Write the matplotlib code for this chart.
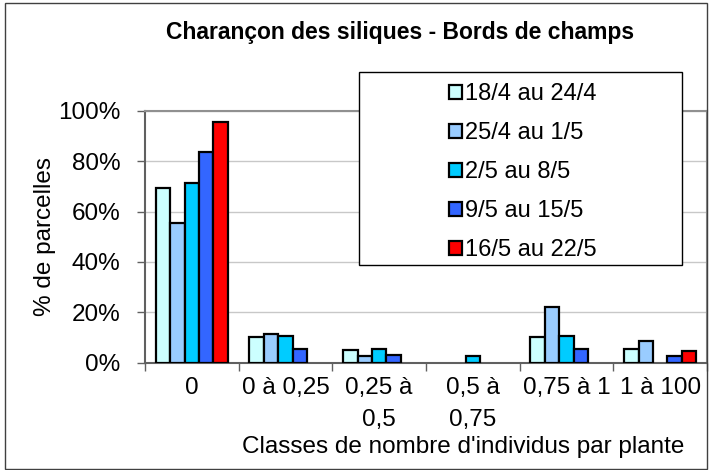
import matplotlib.pyplot as plt
from matplotlib.patches import Rectangle
from matplotlib.ticker import PercentFormatter

plt.rcParams['font.family'] = ['Liberation Sans', 'DejaVu Sans']

classes = ["0", "0 à 0,25", "0,25 à\n0,5", "0,5 à\n0,75", "0,75 à 1", "1 à 100"]
periodes = ["18/4 au 24/4", "25/4 au 1/5", "2/5 au 8/5", "9/5 au 15/5", "16/5 au 22/5"]
p1 = [69.2, 10.1, 5.0, 0.0, 10.3, 5.3]
p2 = [55.6, 11.4, 2.8, 0.0, 22.2, 8.6]
p3 = [71.2, 10.6, 5.3, 2.6, 10.6, 0.0]
p4 = [83.7, 5.4, 2.9, 0.0, 5.4, 2.8]
p5 = [95.4, 0.0, 0.0, 0.0, 0.0, 4.8]
series = [p1, p2, p3, p4, p5]
couleurs = ["#CCFFFF", "#99CCFF", "#00CCFF", "#3366FF", "#FF0000"]

W, H = 710, 470
fig = plt.figure(figsize=(7.1, 4.7), dpi=100)
ax = fig.add_axes([145 / W, 1 - 362.7 / H, (707 - 145) / W, (362.7 - 110.7) / H])

bw = 0.154
handles = []
for k, vals in enumerate(series):
    xs = [i + 0.5 + (k - 2) * bw for i in range(len(classes))]
    ys = [v / 100 for v in vals]
    # les barres a zero ne sont pas dessinees
    xs2 = [x for x, y in zip(xs, ys) if y > 0]
    ys2 = [y for y in ys if y > 0]
    b = ax.bar(xs2, ys2, width=bw, color=couleurs[k], edgecolor="black",
               linewidth=1.6, zorder=3)
    handles.append(b)

ax.set_xlim(0, 6)
ax.set_ylim(0, 1)
ax.set_yticks([0, 0.2, 0.4, 0.6, 0.8, 1.0])
ax.yaxis.set_major_formatter(PercentFormatter(1.0, decimals=0))
ax.grid(axis="y", color="#C8C8C8", linewidth=1, zorder=0)
ax.set_axisbelow(True)

ax.set_xticks(range(7))
ax.set_xticklabels([])
ax.set_xticks([i + 0.5 for i in range(6)], minor=True)
ax.set_xticklabels(classes, minor=True, fontsize=17.5, linespacing=1.6)
ax.tick_params(axis="x", which="minor", length=0, pad=10)
ax.tick_params(axis="x", which="major", length=5.8, width=1, color="#606060")
ax.tick_params(axis="y", length=5.8, width=1, color="#606060", labelsize=17.5, pad=12)

for s in ["top", "right"]:
    ax.spines[s].set_color("#909090")
    ax.spines[s].set_linewidth(1.5)
for s in ["left", "bottom"]:
    ax.spines[s].set_color("#606060")
    ax.spines[s].set_linewidth(1.5)

fig.text(45 / W, 1 - 236.7 / H, "% de parcelles", fontsize=17.5, rotation=90,
         ha="center", va="center")
fig.text(463 / W, 1 - 447 / H, "Classes de nombre d'individus par plante",
         fontsize=17.5, ha="center", va="center")
fig.text(400 / W, 1 - 33 / H, "Charançon des siliques - Bords de champs",
         fontsize=16.5, fontweight="bold", ha="center", va="center")

# cadre de la legende
fig.patches.append(Rectangle((359 / W, 1 - 265 / H), (682 - 359) / W, (265 - 72) / H,
                             transform=fig.transFigure, facecolor="white",
                             edgecolor="black", linewidth=1, zorder=2))
fig.legend(handles, periodes, loc="upper left", bbox_to_anchor=(440 / W, 1 - 74 / H),
           frameon=False, fontsize=17, handlelength=0.55, handleheight=0.55,
           handletextpad=0.1, labelspacing=0.72, borderaxespad=0)

# cadre du graphique
fig.patches.append(Rectangle((5 / W, 1 - 469 / H), (707 - 5) / W, (469 - 3) / H,
                             transform=fig.transFigure, facecolor="none",
                             edgecolor="#404040", linewidth=1, zorder=3))

fig.savefig("out.png", dpi=100)
